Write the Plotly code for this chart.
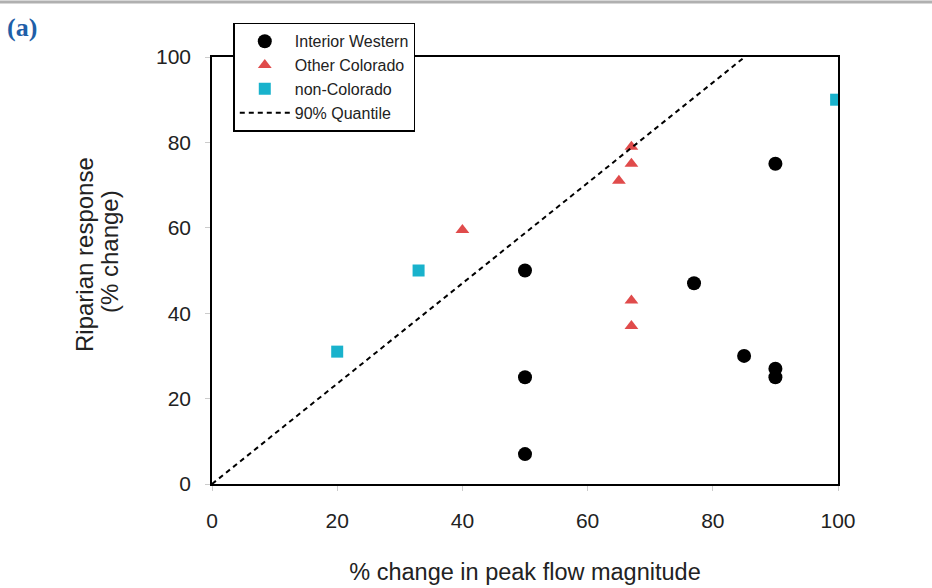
import plotly.graph_objects as go

# Data
iw_x = [50, 50, 50, 77, 85, 90, 90, 90]
iw_y = [50, 25, 7, 47, 30, 75, 27, 25]

oc_x = [40, 65, 67, 67, 67, 67]
oc_y = [59.5, 71, 75, 79, 43, 37]

nc_x = [20, 33, 99.7]
nc_y = [31, 50, 90]

q_x = [0, 85.1]
q_y = [0, 100]

x_ticks = [0, 20, 40, 60, 80, 100]
y_ticks = [0, 20, 40, 60, 80, 100]

font = "Liberation Sans, Arial, sans-serif"

fig = go.Figure()
fig.add_trace(go.Scatter(x=iw_x, y=iw_y, mode="markers", name="Interior Western",
                         marker=dict(symbol="circle", size=14, color="black")))
fig.add_trace(go.Scatter(x=oc_x, y=oc_y, mode="markers", name="Other Colorado",
                         marker=dict(symbol="triangle-up", size=12, color="#e04b4b")))
fig.add_trace(go.Scatter(x=nc_x, y=nc_y, mode="markers", name="non-Colorado",
                         marker=dict(symbol="square", size=12, color="#19b2cc")))
fig.add_trace(go.Scatter(x=q_x, y=q_y, mode="lines", name="90% Quantile",
                         line=dict(color="black", width=2, dash="5px,4px")))

fig.update_layout(
    width=932, height=588,
    margin=dict(l=212, r=94, t=57, b=104, autoexpand=False),
    paper_bgcolor="white", plot_bgcolor="white",
    font=dict(family=font, size=20, color="#222"),
    showlegend=True,
    legend=dict(x=0.034, y=1.08, xanchor="left", yanchor="top",
                bgcolor="white", bordercolor="black", borderwidth=1.5,
                font=dict(size=16, color="#222"), tracegroupgap=0,
                itemwidth=50),
    xaxis=dict(range=[0, 100], tickvals=x_ticks, showgrid=False, zeroline=False,
               showline=True, linecolor="black", linewidth=1.5, mirror=True,
               ticks="outside", ticklen=5, tickcolor="#cccccc",
               ticklabelstandoff=12, automargin=False,
               title=dict(text="% change in peak flow magnitude", standoff=33,
                          font=dict(size=23.5)),
               tickfont=dict(size=21)),
    yaxis=dict(range=[0, 100], tickvals=y_ticks, showgrid=False, zeroline=False,
               showline=True, linecolor="black", linewidth=1.5, mirror=True,
               ticks="outside", ticklen=5, tickcolor="#cccccc",
               ticklabelstandoff=10, automargin=False,
               tickfont=dict(size=21)),
    shapes=[dict(type="line", xref="paper", yref="paper", x0=-0.36, x1=1.17,
                 y0=1.1288, y1=1.1288, line=dict(color="#b0b0b0", width=3))],
    annotations=[
        dict(text="<b>(a)</b>", xref="paper", yref="paper",
             x=-0.3035, y=1.07, xanchor="center", yanchor="middle",
             showarrow=False,
             font=dict(family="Liberation Serif, serif", size=26, color="#1f5fa8")),
        dict(text="Riparian response", xref="paper", yref="paper",
             x=-0.2045, y=0.5386, xanchor="center", yanchor="middle",
             textangle=-90, showarrow=False, font=dict(size=24, color="#222")),
        dict(text="(% change)", xref="paper", yref="paper",
             x=-0.1645, y=0.5433, xanchor="center", yanchor="middle",
             textangle=-90, showarrow=False, font=dict(size=24, color="#222")),
    ],
)

fig.write_html("out.html", config={"displayModeBar": False},
               post_script="document.body.style.margin='0';")
